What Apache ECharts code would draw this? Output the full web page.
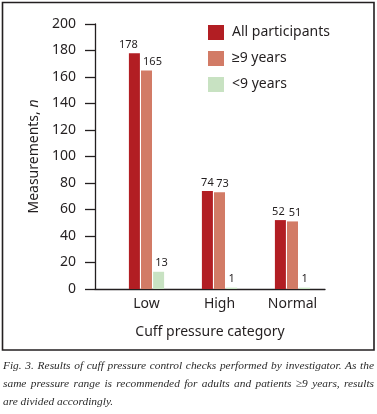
<!DOCTYPE html>
<html>
<head>
<meta charset="utf-8">
<script src="https://cdn.jsdelivr.net/npm/echarts@6/dist/echarts.min.js"></script>
<style>
  html, body { margin: 0; padding: 0; background: #fff; }
  #wrap { position: relative; width: 377px; height: 414px; overflow: hidden; }
  #chart { position: absolute; left: 0; top: 0; width: 377px; height: 414px; }
  #caption { position: absolute; left: 3px; top: 356px; width: 371px;
    font-family: "Liberation Serif", serif; font-style: italic; font-size: 11.4px;
    line-height: 18px; color: #2a2a2a; }
  #caption div { white-space: nowrap; }
  #caption .j { text-align: justify; text-align-last: justify; }
</style>
</head>
<body>
<div id="wrap">
  <div id="chart"></div>
  <div id="caption">
    <div class="j">Fig. 3. Results of cuff pressure control checks performed by investigator. As the</div>
    <div class="j">same pressure range is recommended for adults and patients ≥9 years, results</div>
    <div>are divided accordingly.</div>
  </div>
</div>
<script>
// ---- data ----
const categories = ['Low', 'High', 'Normal'];
const seriesNames = ['All participants', '≥9 years', '<9 years'];
const allParticipants = [178, 74, 52];
const nineAndOver = [165, 73, 51];
const underNine = [13, 1, 1];
const yTicks = { min: 0, max: 200, interval: 20 };
const yAxisTitle = 'Measurements, {i|n}';
const xAxisTitle = 'Cuff pressure category';

// ---- styles ----
const colors = ['#b21e23', '#d27b66', '#c8e2c2'];
const labelNudge = [[-6, 0, -2], [6, 3, 2.5], [3, 0, 0]];
const FONT = '"Noto Sans", sans-serif';
const INK = '#231f20';

function items(values, si) {
  return values.map((v, i) => ({ value: v, label: { offset: [labelNudge[si][i], 0] } }));
}

const chart = echarts.init(document.getElementById('chart'), null, { renderer: 'canvas' });
const gridTop = 24, gridBottom = 125;

const seriesData = [allParticipants, nineAndOver, underNine];
const option = {
  animation: false,
  backgroundColor: '#fff',
  textStyle: { fontFamily: FONT },
  graphic: [{
    type: 'rect', z: 100,
    shape: { x: 2.5, y: 2.5, width: 371.5, height: 347.5 },
    style: { fill: 'none', stroke: INK, lineWidth: 1.6 }
  }],
  legend: {
    orient: 'vertical', left: 203, top: 20,
    itemWidth: 16, itemHeight: 15, itemGap: 11,
    icon: 'rect',
    textStyle: { fontFamily: FONT, fontSize: 14, color: INK, padding: [0, 0, 0, 3] },
    data: seriesNames
  },
  grid: [
    { left: 95, right: 52, top: gridTop, bottom: gridBottom },
    { left: 110, right: 48, top: gridTop, bottom: gridBottom }
  ],
  xAxis: [
    {
      type: 'category', gridIndex: 0, data: categories,
      axisLine: { lineStyle: { color: INK, width: 1.3 } },
      axisTick: { show: false }, axisLabel: { show: false },
      name: xAxisTitle, nameLocation: 'middle', nameGap: 36,
      nameTextStyle: { fontFamily: FONT, fontSize: 14, color: INK }
    },
    {
      type: 'category', gridIndex: 1, data: categories,
      axisLine: { show: false }, axisTick: { show: false },
      axisLabel: { fontFamily: FONT, fontSize: 14, color: INK, margin: 8 }
    }
  ],
  yAxis: [
    {
      type: 'value', gridIndex: 0, min: yTicks.min, max: yTicks.max, interval: yTicks.interval,
      axisLine: { show: true, lineStyle: { color: INK, width: 1.3 } },
      axisTick: { show: true, length: 10, lineStyle: { color: INK, width: 1.3 } },
      axisLabel: { fontFamily: FONT, fontSize: 14, color: INK, margin: 19 },
      splitLine: { show: false },
      name: yAxisTitle, nameLocation: 'middle', nameGap: 51,
      nameTextStyle: {
        fontFamily: FONT, fontSize: 14, color: INK,
        rich: { i: { fontFamily: FONT, fontSize: 14, color: INK, fontStyle: 'italic' } }
      }
    },
    {
      type: 'value', gridIndex: 1, min: yTicks.min, max: yTicks.max, interval: yTicks.interval,
      show: false, splitLine: { show: false }
    }
  ],
  series: seriesNames.map((name, si) => ({
    name, type: 'bar', xAxisIndex: 1, yAxisIndex: 1,
    data: items(seriesData[si], si),
    barWidth: 11, barGap: '10%',
    itemStyle: { color: colors[si] },
    label: { show: true, position: 'top', distance: 3, fontFamily: FONT, fontSize: 11, color: INK }
  }))
};
chart.setOption(option);
</script>
</body>
</html>
